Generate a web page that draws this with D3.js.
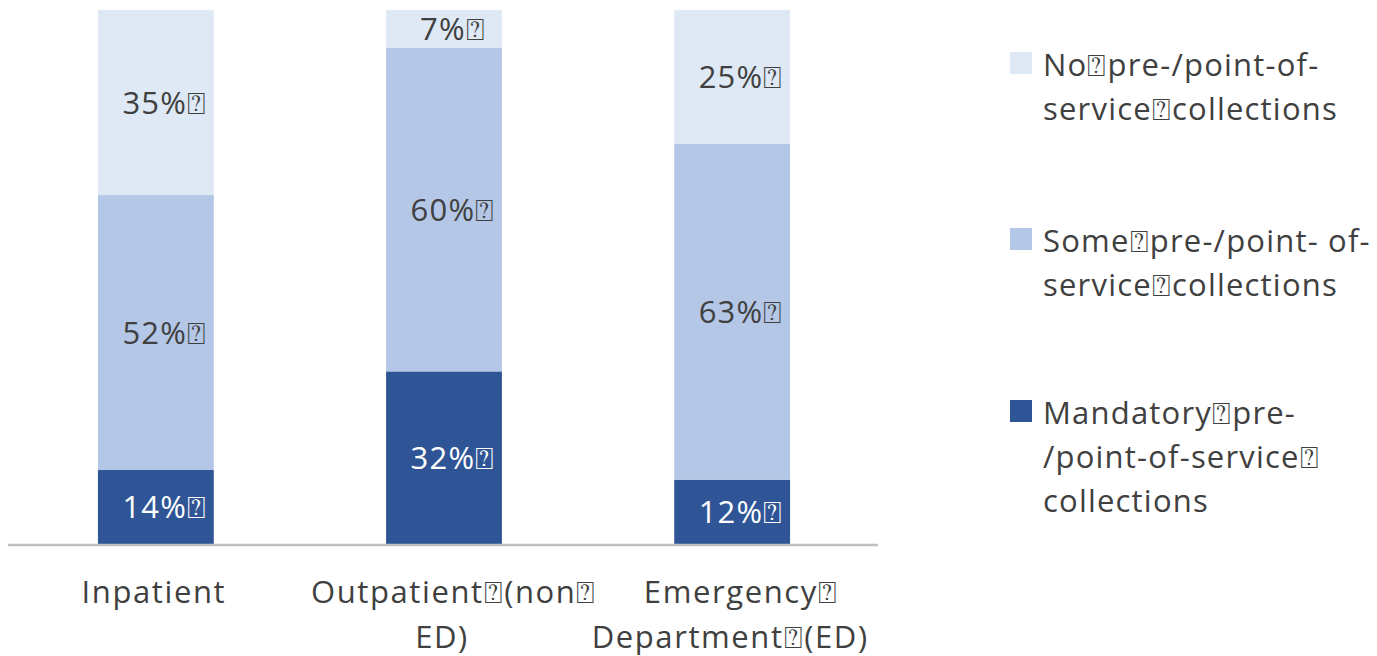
<!DOCTYPE html>
<html><head><meta charset="utf-8">
<script src="https://cdn.jsdelivr.net/npm/d3@7"></script>
<style>body{margin:0;background:#fff}svg{display:block}text{font-family:"Open Sans",sans-serif}</style>
</head><body><svg id="c" width="1377" height="656"></svg>
<script>
const T = "\u2370";
const categories = ["Inpatient", "Outpatient (non ED)", "Emergency Department (ED)"];
const categoryLines = [["Inpatient"], ["Outpatient" + T + "(non" + T, "ED)"], ["Emergency" + T, "Department" + T + "(ED)"]];
const seriesNames = ["Mandatory", "Some", "No"];
const mandatory = [14, 32, 12];
const some = [52, 60, 63];
const none = [35, 7, 25];
const legendLines = [
  ["No" + T + "pre-/point-of-", "service" + T + "collections"],
  ["Some" + T + "pre-/point- of-", "service" + T + "collections"],
  ["Mandatory" + T + "pre-", "/point-of-service" + T, "collections"]
];
const colors = ["#2f5597", "#b4c7e7", "#dee9f5"];
const labelColors = ["#ffffff", "#404040", "#404040"];
const FS = 31, LS = 1.2;

const svg = d3.select("#c");
const rows = categories.map((c, i) => ({cat: c, Mandatory: mandatory[i], Some: some[i], No: none[i]}));
const stack = d3.stack().keys(seriesNames).offset(d3.stackOffsetExpand);
const series = stack(rows);

const x = d3.scaleBand().domain(categories).range([11.5, 876.5]).paddingInner(0.598).paddingOuter(0.3);
const y = d3.scaleLinear().domain([0, 1]).range([544, 10]);

const g = svg.append("g");
series.forEach((s, si) => {
  g.selectAll(null).data(s).enter().append("rect")
    .attr("x", d => x(d.data.cat))
    .attr("y", d => y(d[1]))
    .attr("width", x.bandwidth())
    .attr("height", d => y(d[0]) - y(d[1]))
    .attr("fill", colors[si]);
  const vals = [mandatory, some, none][si];
  g.selectAll(null).data(s).enter().append("text")
    .attr("x", d => x(d.data.cat) + x.bandwidth() / 2 + 9)
    .attr("y", d => (y(d[0]) + y(d[1])) / 2)
    .attr("dy", "0.36em")
    .attr("text-anchor", "middle")
    .attr("font-size", FS)
    .attr("letter-spacing", LS)
    .attr("fill", labelColors[si])
    .text((d, i) => vals[i] + "%" + T);
});

// axis line
svg.append("line").attr("x1", 8).attr("x2", 878).attr("y1", 545).attr("y2", 545)
  .attr("stroke", "#bfbfbf").attr("stroke-width", 2.5);

// category labels
const catOffsets = [[-2], [10, -2], [9, -2]];
categories.forEach((c, i) => {
  const t = svg.append("text").attr("text-anchor", "middle").attr("font-size", FS)
    .attr("fill", "#404040").attr("letter-spacing", 1.6);
  categoryLines[i].forEach((ln, j) => {
    t.append("tspan").attr("x", x(c) + x.bandwidth() / 2 + catOffsets[i][j]).attr("y", 603 + j * 45).text(ln);
  });
});

// legend
const legTop = [52, 228, 400];
const legOrder = [2, 1, 0];
legOrder.forEach((si, k) => {
  svg.append("rect").attr("x", 1010).attr("y", legTop[k]).attr("width", 22).attr("height", 22).attr("fill", colors[si]);
  const t = svg.append("text").attr("font-size", FS).attr("fill", "#404040").attr("letter-spacing", LS);
  legendLines[k].forEach((ln, j) => {
    t.append("tspan").attr("x", 1043).attr("y", legTop[k] + 24 + j * 44).text(ln);
  });
});
</script></body></html>
